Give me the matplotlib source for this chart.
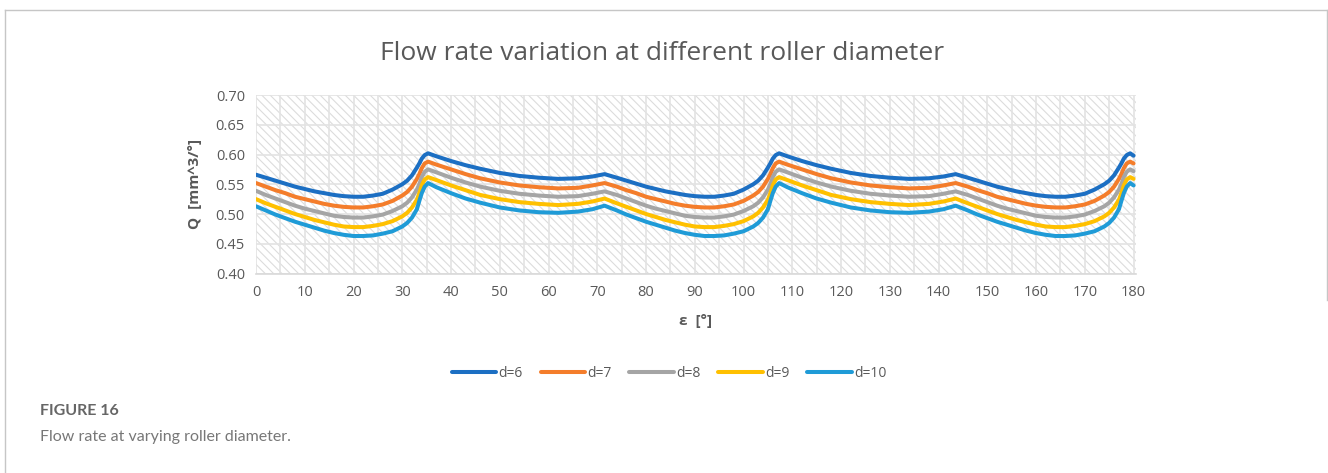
import matplotlib
matplotlib.use("Agg")
import matplotlib.pyplot as plt
from matplotlib.lines import Line2D

# ---------------- data ----------------
angle = [0, 2, 4, 6, 8, 10, 12, 14, 16, 18, 20, 22, 24, 26, 28, 30, 31, 32, 33, 33.5, 34, 34.6, 35.3,
         37, 40, 43, 46, 50, 54, 58, 62, 66, 69, 71.5,
         74, 76, 78, 80, 82, 84, 86, 88, 90, 92, 94, 96, 98, 100, 102, 103, 104, 105, 105.5, 106, 106.6, 107.3,
         109, 112, 115, 118, 122, 126, 130, 134, 138, 141, 143.5,
         146, 148, 150, 152, 154, 156, 158, 160, 162, 164, 166, 168, 170, 172, 174, 175, 176, 177, 177.5, 178, 178.6, 179.3, 180]

q_d6 = [0.566, 0.561, 0.556, 0.551, 0.546, 0.542, 0.538, 0.535, 0.532, 0.530, 0.529, 0.529, 0.531, 0.534, 0.541, 0.550, 0.556, 0.565, 0.578, 0.585, 0.593, 0.599, 0.602,
        0.597, 0.589, 0.582, 0.576, 0.569, 0.564, 0.561, 0.559, 0.560, 0.563, 0.567,
        0.561, 0.556, 0.551, 0.546, 0.542, 0.538, 0.535, 0.532, 0.530, 0.529, 0.529, 0.531, 0.534, 0.541, 0.550, 0.556, 0.565, 0.578, 0.585, 0.593, 0.599, 0.602,
        0.597, 0.589, 0.582, 0.576, 0.569, 0.564, 0.561, 0.559, 0.560, 0.563, 0.567,
        0.561, 0.556, 0.551, 0.546, 0.542, 0.538, 0.535, 0.532, 0.530, 0.529, 0.529, 0.531, 0.534, 0.541, 0.550, 0.556, 0.565, 0.578, 0.585, 0.593, 0.599, 0.602, 0.598]

q_d7 = [0.552, 0.546, 0.540, 0.535, 0.529, 0.525, 0.521, 0.517, 0.514, 0.512, 0.511, 0.511, 0.513, 0.516, 0.522, 0.531, 0.537, 0.546, 0.559, 0.567, 0.577, 0.585, 0.588,
        0.583, 0.575, 0.567, 0.560, 0.553, 0.548, 0.545, 0.543, 0.544, 0.548, 0.552,
        0.546, 0.540, 0.535, 0.529, 0.525, 0.521, 0.517, 0.514, 0.512, 0.511, 0.511, 0.513, 0.516, 0.522, 0.531, 0.537, 0.546, 0.559, 0.567, 0.577, 0.585, 0.588,
        0.583, 0.575, 0.567, 0.560, 0.553, 0.548, 0.545, 0.543, 0.544, 0.548, 0.552,
        0.546, 0.540, 0.535, 0.529, 0.525, 0.521, 0.517, 0.514, 0.512, 0.511, 0.511, 0.513, 0.516, 0.522, 0.531, 0.537, 0.546, 0.559, 0.567, 0.577, 0.585, 0.588, 0.585]

q_d8 = [0.539, 0.532, 0.526, 0.520, 0.514, 0.509, 0.505, 0.501, 0.497, 0.495, 0.494, 0.494, 0.496, 0.499, 0.505, 0.513, 0.519, 0.528, 0.541, 0.550, 0.562, 0.571, 0.575,
        0.570, 0.561, 0.553, 0.546, 0.539, 0.534, 0.531, 0.529, 0.530, 0.534, 0.538,
        0.532, 0.526, 0.520, 0.514, 0.509, 0.505, 0.501, 0.497, 0.495, 0.494, 0.494, 0.496, 0.499, 0.505, 0.513, 0.519, 0.528, 0.541, 0.550, 0.562, 0.571, 0.575,
        0.570, 0.561, 0.553, 0.546, 0.539, 0.534, 0.531, 0.529, 0.530, 0.534, 0.538,
        0.532, 0.526, 0.520, 0.514, 0.509, 0.505, 0.501, 0.497, 0.495, 0.494, 0.494, 0.496, 0.499, 0.505, 0.513, 0.519, 0.528, 0.541, 0.550, 0.562, 0.571, 0.575, 0.572]

q_d9 = [0.525, 0.518, 0.512, 0.506, 0.500, 0.495, 0.490, 0.486, 0.482, 0.479, 0.478, 0.478, 0.480, 0.483, 0.488, 0.496, 0.502, 0.511, 0.524, 0.535, 0.548, 0.558, 0.562,
        0.557, 0.548, 0.540, 0.532, 0.525, 0.520, 0.517, 0.515, 0.517, 0.521, 0.526,
        0.518, 0.512, 0.506, 0.500, 0.495, 0.490, 0.486, 0.482, 0.479, 0.478, 0.478, 0.480, 0.483, 0.488, 0.496, 0.502, 0.511, 0.524, 0.535, 0.548, 0.558, 0.562,
        0.557, 0.548, 0.540, 0.532, 0.525, 0.520, 0.517, 0.515, 0.517, 0.521, 0.526,
        0.518, 0.512, 0.506, 0.500, 0.495, 0.490, 0.486, 0.482, 0.479, 0.478, 0.478, 0.480, 0.483, 0.488, 0.496, 0.502, 0.511, 0.524, 0.535, 0.548, 0.558, 0.562, 0.559]

q_d10 = [0.513, 0.506, 0.499, 0.493, 0.487, 0.482, 0.477, 0.472, 0.468, 0.465, 0.463, 0.463, 0.464, 0.467, 0.471, 0.479, 0.485, 0.494, 0.508, 0.522, 0.535, 0.546, 0.552,
         0.545, 0.535, 0.526, 0.519, 0.511, 0.506, 0.503, 0.502, 0.504, 0.508, 0.514,
         0.506, 0.499, 0.493, 0.487, 0.482, 0.477, 0.472, 0.468, 0.465, 0.463, 0.463, 0.464, 0.467, 0.471, 0.479, 0.485, 0.494, 0.508, 0.522, 0.535, 0.546, 0.552,
         0.545, 0.535, 0.526, 0.519, 0.511, 0.506, 0.503, 0.502, 0.504, 0.508, 0.514,
         0.506, 0.499, 0.493, 0.487, 0.482, 0.477, 0.472, 0.468, 0.465, 0.463, 0.463, 0.464, 0.467, 0.471, 0.479, 0.485, 0.494, 0.508, 0.522, 0.535, 0.546, 0.552, 0.548]

series_labels = ["d=6", "d=7", "d=8", "d=9", "d=10"]
series_values = [q_d6, q_d7, q_d8, q_d9, q_d10]
x_ticks = list(range(0, 181, 10))
y_ticks = [0.40, 0.45, 0.50, 0.55, 0.60, 0.65, 0.70]

title = "Flow rate variation at different roller diameter"
x_label = "ε  [°]"
y_label = "Q  [mm^3/°]"
fig_label = "FIGURE 16"
fig_caption = "Flow rate at varying roller diameter."

# ---------------- style ----------------
colors = ["#1c6fc3", "#f47d2b", "#a5a5a5", "#ffc000", "#1f9bd7"]
text_gray = "#595959"
plt.rcParams['font.family'] = ['Open Sans', 'DejaVu Sans']
plt.rcParams['hatch.linewidth'] = 0.8

W, H = 1328, 473
fig = plt.figure(figsize=(W / 100, H / 100), dpi=100)
ax = fig.add_axes([256 / W, 1 - 273.5 / H, (1136 - 256) / W, (273.5 - 95) / H])

ax.patch.set_facecolor("white")
ax.patch.set_hatch("\\\\\\\\")
ax.patch.set_edgecolor("#dcdcdc")
ax.patch.set_linewidth(0)

for lab, vals, col in zip(series_labels, series_values, colors):
    ax.plot(angle, vals, color=col, lw=2.9, label=lab, solid_joinstyle="round", solid_capstyle="round", zorder=3)

ax.set_xlim(0, 180.5)
ax.set_ylim(0.40, 0.70)
ax.set_xticks(x_ticks)
ax.set_yticks(y_ticks)
ax.set_yticklabels([f"{v:.2f}" for v in y_ticks])
ax.set_xticks(list(range(0, 181, 5)), minor=True)
ax.grid(True, which="major", axis="both", color="#e3e3e3", lw=1.2, zorder=1)
ax.grid(True, which="minor", axis="x", color="#e3e3e3", lw=1.2, zorder=1)
ax.set_axisbelow(True)
ax.tick_params(which="both", length=0, labelsize=10.5, labelcolor=text_gray, pad=8)
for s in ["top", "right", "left"]:
    ax.spines[s].set_visible(False)
ax.spines["bottom"].set_color("#d9d9d9")
ax.spines["bottom"].set_linewidth(1.2)

ax.set_xlabel(x_label, fontsize=11, fontweight="bold", color=text_gray, labelpad=10)
ax.set_ylabel(y_label, fontsize=11, fontweight="bold", color=text_gray, labelpad=10)

fig.text(662 / W, 1 - 54 / H, title, ha="center", va="center", fontsize=19, color=text_gray)

leg = fig.legend(loc="center", bbox_to_anchor=(669 / W, 1 - 373 / H), ncol=5, frameon=False,
                 fontsize=10, handlelength=3.2, handletextpad=0.15, columnspacing=1.3)
for t in leg.get_texts():
    t.set_color(text_gray)

fig.text(40 / W, 1 - 411 / H, fig_label, ha="left", va="center", fontsize=11.5,
         fontweight="bold", color="#666666", family=["Lato", "DejaVu Sans"])
fig.text(40 / W, 1 - 437 / H, fig_caption, ha="left", va="center", fontsize=11.5,
         color="#777777", family=["Lato", "DejaVu Sans"])

# outer frame
bc = "#c6c6c6"
fig.add_artist(Line2D([4.5 / W, 4.5 / W], [0, 1 - 10 / H], transform=fig.transFigure, color=bc, lw=1))
fig.add_artist(Line2D([4.5 / W, 1327 / W], [1 - 10 / H, 1 - 10 / H], transform=fig.transFigure, color=bc, lw=1))
fig.add_artist(Line2D([1327 / W, 1327 / W], [1 - 10 / H, 1 - 300 / H], transform=fig.transFigure, color=bc, lw=1))

fig.savefig("out.png", dpi=100, facecolor="white")
